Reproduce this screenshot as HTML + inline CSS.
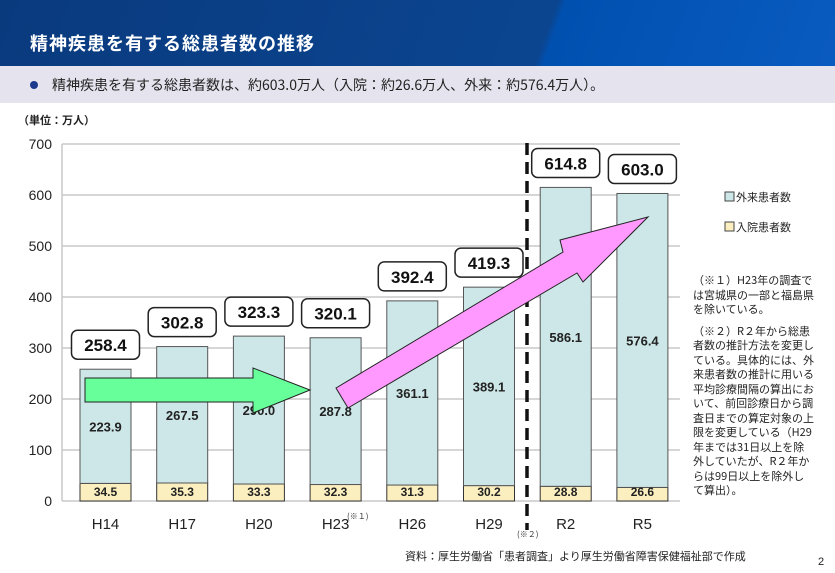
<!DOCTYPE html>
<html><head><meta charset="utf-8"><style>
body{margin:0;width:835px;height:573px;overflow:hidden;background:#fff;font-family:"Liberation Sans","Noto Sans CJK JP",sans-serif}
#hdr{position:absolute;left:0;top:0;width:835px;height:66px;background:linear-gradient(110deg,#0a3a7e 0%,#0b4590 65%,#0050b0 66%,#0a5bc0 100%)}
#ttl{position:absolute;left:30px;top:30px;color:#fff;font-size:18px;font-weight:bold;font-family:"Noto Sans CJK JP",sans-serif;letter-spacing:1px}
#sub{position:absolute;left:0;top:66px;width:835px;height:37px;background:#e5e4ee}
#sub span{position:absolute;left:52px;top:9px;font-size:14px;color:#222;font-family:"Noto Sans CJK JP",sans-serif}
#dot{position:absolute;left:30px;top:15px;width:8px;height:8px;border-radius:50%;background:#1c3a8c}
</style></head><body>
<div id="hdr"><div id="ttl">精神疾患を有する総患者数の推移</div></div>
<div id="sub"><div id="dot"></div><span>精神疾患を有する総患者数は、約603.0万人（入院：約26.6万人、外来：約576.4万人）。</span></div>
<svg id="chart" width="835" height="573" style="position:absolute;left:0;top:0"></svg>
<script>
const categories=["H14","H17","H20","H23","H26","H29","R2","R5"];
const inpatient=[34.5,35.3,33.3,32.3,31.3,30.2,28.8,26.6];
const outpatient=[223.9,267.5,290.0,287.8,361.1,389.1,586.1,576.4];
const totals=[258.4,302.8,323.3,320.1,392.4,419.3,614.8,603.0];
const yTicks=[0,100,200,300,400,500,600,700];
const NS="http://www.w3.org/2000/svg";
const svg=document.getElementById('chart');
const y0=501,y1=144;
function y(v){return y0-(v/700)*(y0-y1);}
function x(i){return 105.5+i*76.7;}
function mk(t,a,p){const e=document.createElementNS(NS,t);for(const k in a)e.setAttribute(k,a[k]);(p||svg).appendChild(e);return e;}
function txt(s,a){const e=mk('text',a);e.textContent=s;return e;}
txt("（単位：万人）",{x:18,y:124,'font-size':11,'font-weight':'bold',fill:'#222','font-family':'Noto Sans CJK JP,sans-serif'});
yTicks.forEach(v=>{
 const l=mk('line',{x1:62,x2:680,y1:y(v),y2:y(v),stroke:'#c8c8c8','stroke-width':1.5});
 
 const t=txt(String(v),{x:52,y:y(v)+5,'font-size':14,'text-anchor':'end',fill:'#222'});
 
});
mk('line',{x1:62,x2:62,y1:y1,y2:y0,stroke:'#c8c8c8','stroke-width':1.5});
categories.forEach((c,i)=>{
 const cx=x(i),w=51;
 const b1=mk('rect',{x:cx-w/2,y:y(inpatient[i]),width:w,height:y0-y(inpatient[i]),fill:'#fcefbf',stroke:'#333','stroke-width':1});
 
 const top=inpatient[i]+outpatient[i];
 const b2=mk('rect',{x:cx-w/2,y:y(top),width:w,height:y(inpatient[i])-y(top),fill:'#cde7e8',stroke:'#555','stroke-width':1});
 
 const t1=txt(inpatient[i].toFixed(1),{x:cx,y:y0-5,'font-size':12,'font-weight':'bold','text-anchor':'middle',fill:'#222'});
 
 const t2=txt(outpatient[i].toFixed(1),{x:cx,y:(y(top)+y(inpatient[i]))/2+5,'font-size':13,'font-weight':'bold','text-anchor':'middle',fill:'#222'});
 
 const by=y(totals[i])-39;
 const bx=mk('rect',{x:cx-34,y:by,width:68,height:29,rx:6,fill:'#fff',stroke:'#222','stroke-width':1.5});
 
 const t3=txt(totals[i].toFixed(1),{x:cx,y:by+21,'font-size':17,'font-weight':'bold','text-anchor':'middle',fill:'#111'});
 
 const t4=txt(c,{x:cx,y:529,'font-size':15,'text-anchor':'middle',fill:'#222'});
 
});
txt("(※１)",{x:347,y:519,'font-size':8,fill:'#333','font-family':'Noto Sans CJK JP,sans-serif'});
txt("(※２)",{x:517,y:537,'font-size':8,fill:'#333','font-family':'Noto Sans CJK JP,sans-serif'});
const dl=mk('line',{x1:527,x2:527,y1:143,y2:530,stroke:'#111','stroke-width':3.5,'stroke-dasharray':'12,7'});

const ga=mk('polygon',{points:'85,378 253,378 253,368 310,390 253,413 253,402 85,402',fill:'#66ff99',stroke:'#222','stroke-width':1});

const pa=mk('polygon',{points:'336,388 563,252 560,240 648,217 583,282 577,273 348,408',fill:'#ff99ff',stroke:'#222','stroke-width':1});

// legend
const lg=[['#cde7e8','外来患者数',201],['#fcefbf','入院患者数',231]];
lg.forEach(d=>{
 const r=mk('rect',{x:725,y:d[2]-9,width:9,height:9,fill:d[0],stroke:'#444','stroke-width':1});
 
 const t=txt(d[1],{x:736,y:d[2],'font-size':11,fill:'#222','font-family':'Noto Sans CJK JP,sans-serif'});
 
});
const notes=[["（※１）H23年の調査で",284],["は宮城県の一部と福島県",299],["を除いている。",313],
["（※２）R２年から総患",335],["者数の推計方法を変更し",349],["ている。具体的には、外",364],["来患者数の推計に用いる",378],["平均診療間隔の算出にお",393],["いて、前回診療日から調",407],["査日までの算定対象の上",422],["限を変更している（H29",436],["年までは31日以上を除",451],["外していたが、R２年か",465],["らは99日以上を除外し",480],["て算出）。",494]];
notes.forEach(n=>{
 const t=txt(n[0],{x:693,y:n[1],'font-size':11,fill:'#222','font-family':'Noto Sans CJK JP,sans-serif'});
 
});
txt("資料：厚生労働省「患者調査」より厚生労働省障害保健福祉部で作成",{x:405,y:560,'font-size':11,fill:'#222','font-family':'Noto Sans CJK JP,sans-serif'});
txt("2",{x:818,y:565,'font-size':11,fill:'#222'});
</script>
</body></html>
